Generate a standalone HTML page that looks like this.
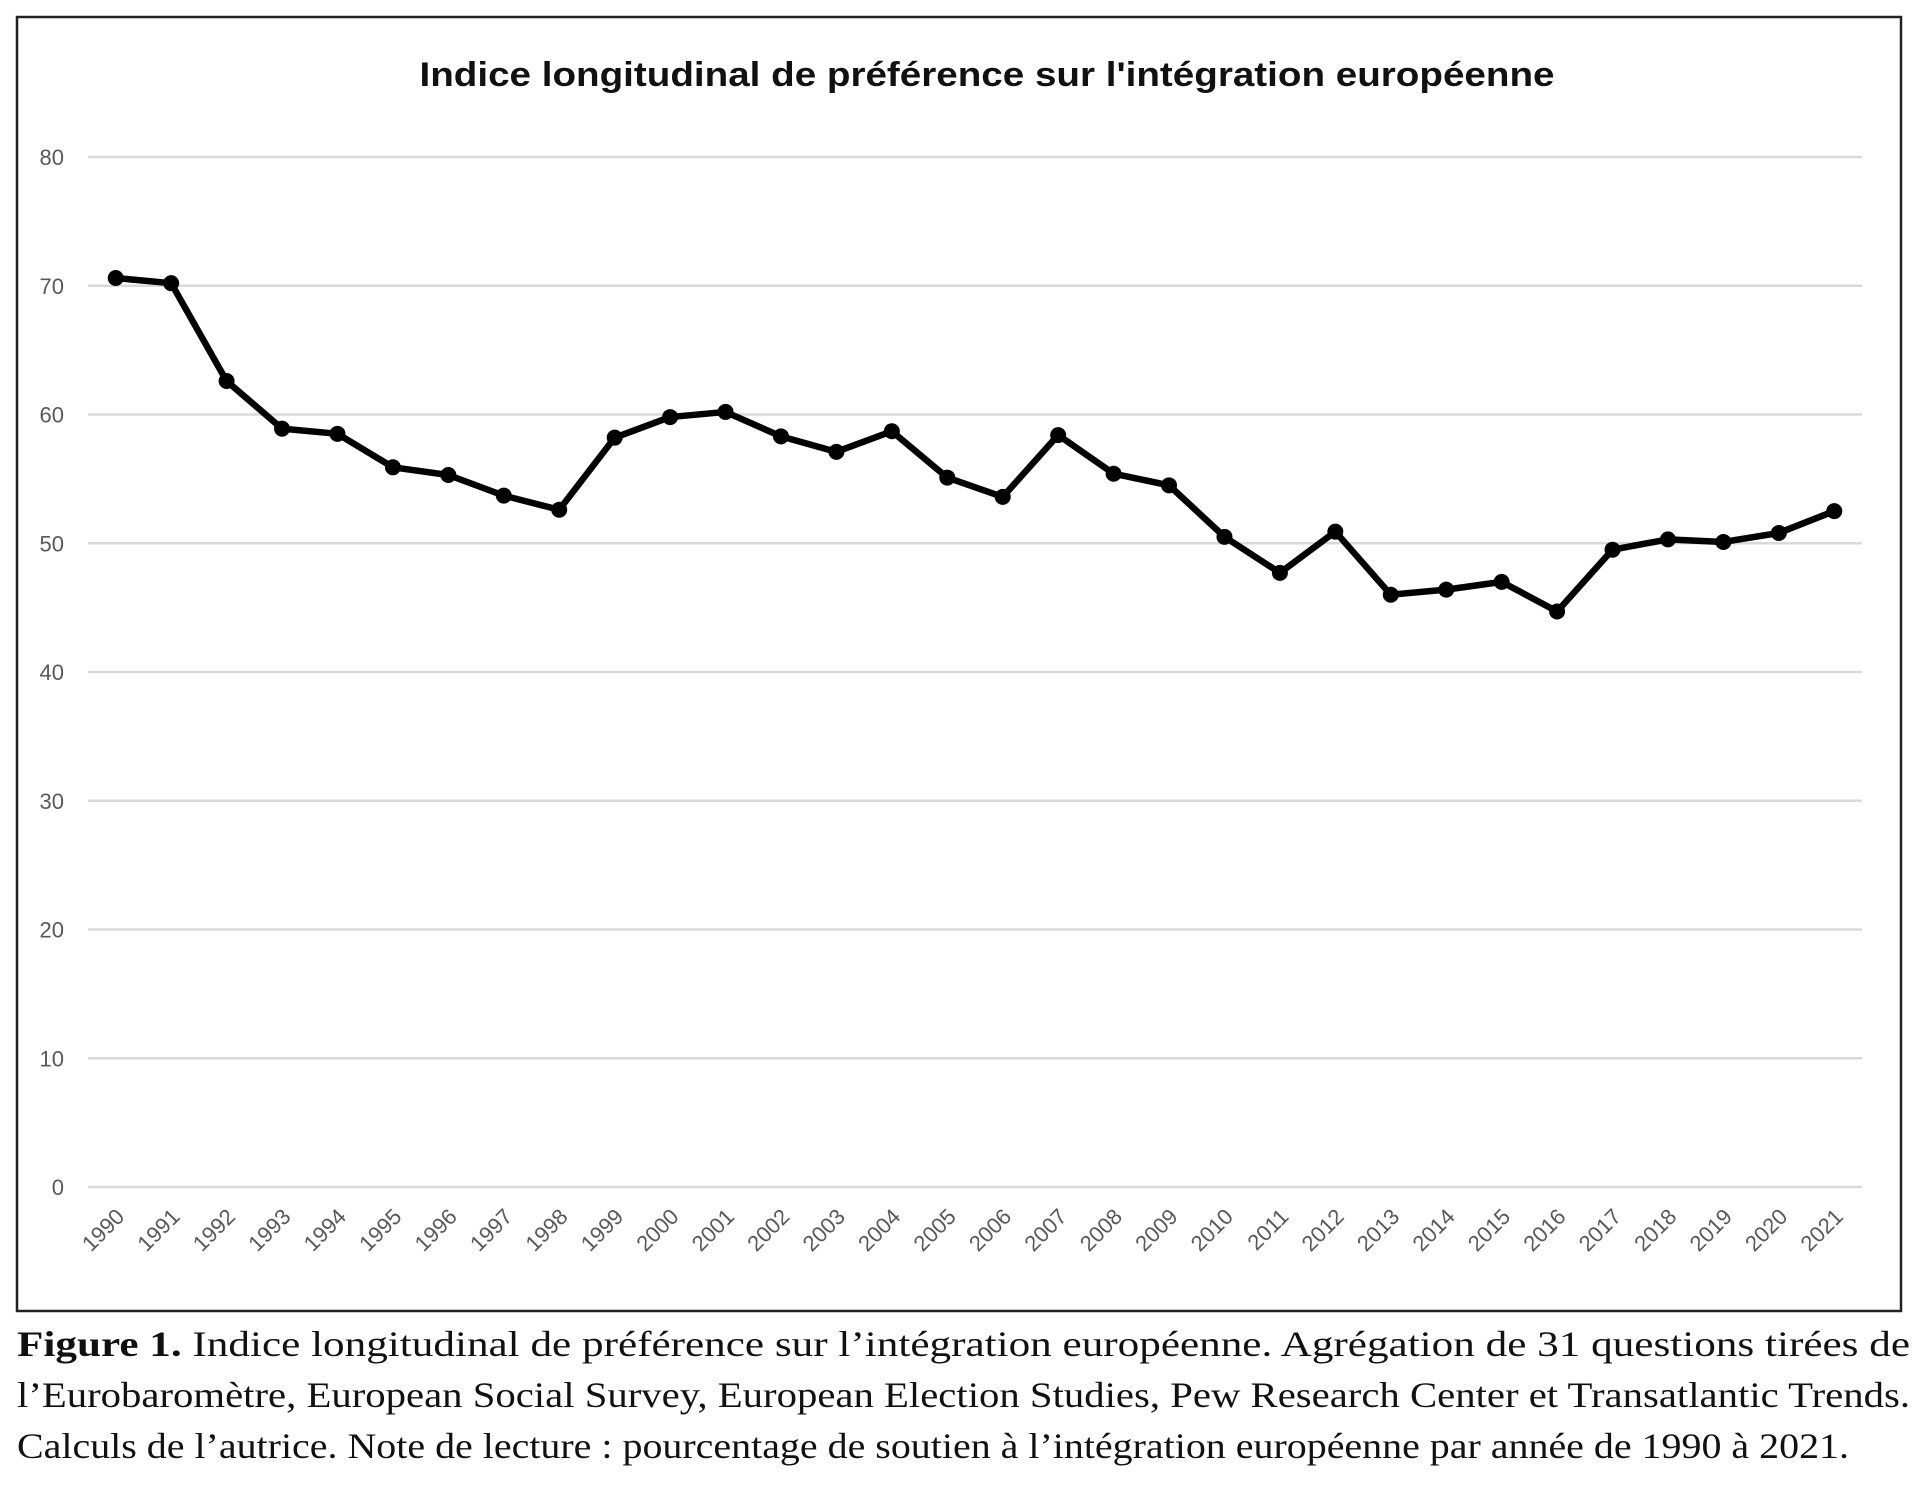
<!DOCTYPE html>
<html><head><meta charset="utf-8"><style>
html,body{margin:0;padding:0;background:#fff;}
svg{display:block;}
</style></head><body>
<svg id="chart" width="1920" height="1488" viewBox="0 0 1920 1488" xmlns="http://www.w3.org/2000/svg">
<rect x="17" y="17" width="1884" height="1294" fill="#fff" stroke="#222" stroke-width="2.5"/>
<text x="987" y="86" text-anchor="middle" font-family="'Liberation Sans',sans-serif" font-weight="bold" font-size="34" fill="#111" textLength="1135" lengthAdjust="spacingAndGlyphs">Indice longitudinal de préférence sur l'intégration européenne</text>
<g id="grid"></g>
<g id="yticks"></g>
<g id="xticks"></g>
<g id="series"></g>
<g font-family="'Liberation Serif',serif" font-size="36" fill="#111">
<text x="17" y="1356" textLength="1893" lengthAdjust="spacingAndGlyphs"><tspan font-weight="bold">Figure 1.</tspan> Indice longitudinal de préférence sur l’intégration européenne. Agrégation de 31 questions tirées de</text>
<text x="17" y="1407" textLength="1893" lengthAdjust="spacingAndGlyphs">l’Eurobaromètre, European Social Survey, European Election Studies, Pew Research Center et Transatlantic Trends.</text>
<text x="17" y="1458" textLength="1832" lengthAdjust="spacingAndGlyphs">Calculs de l’autrice. Note de lecture : pourcentage de soutien à l’intégration européenne par année de 1990 à 2021.</text>
</g>
</svg>
<script>
const years = ["1990","1991","1992","1993","1994","1995","1996","1997","1998","1999","2000","2001","2002","2003","2004","2005","2006","2007","2008","2009","2010","2011","2012","2013","2014","2015","2016","2017","2018","2019","2020","2021"];
const values = [70.6,70.2,62.6,58.9,58.5,55.9,55.3,53.7,52.6,58.2,59.8,60.2,58.3,57.1,58.7,55.1,53.6,58.4,55.4,54.5,50.5,47.7,50.9,46.0,46.4,47.0,44.7,49.5,50.3,50.1,50.8,52.5];
const yTicks = [0,10,20,30,40,50,60,70,80];

const NS="http://www.w3.org/2000/svg";
const L=88,R=1862,Y0=1187,Y80=157;
const yMax=80;
function y(v){return Y0-(v/yMax)*(Y0-Y80);}
function x(i){const w=(R-L)/years.length;return L+w*(i+0.5);}
function mk(t,a,p){const e=document.createElementNS(NS,t);for(const k in a)e.setAttribute(k,a[k]);p.appendChild(e);return e;}

const grid=document.getElementById('grid'),yt=document.getElementById('yticks'),xt=document.getElementById('xticks'),ser=document.getElementById('series');
yTicks.forEach(v=>{
  const l=mk('line',{x1:L,x2:R,y1:y(v),y2:y(v),stroke:'#d9d9d9','stroke-width':2.5},grid);
  
  
  const t=mk('text',{x:64,y:y(v)+8,'text-anchor':'end','font-family':"'Liberation Sans',sans-serif",'font-size':22,fill:'#595959'},yt);
  t.textContent=v;
  
  
});
years.forEach((yr,i)=>{
  const cx=x(i)+10,cy=1218;
  const t=mk('text',{x:cx,y:cy,'text-anchor':'end','font-family':"'Liberation Sans',sans-serif",'font-size':22,fill:'#595959',transform:`rotate(-45 ${cx} ${cy})`},xt);
  t.textContent=yr;
  
  
});
const pts=values.map((v,i)=>x(i)+','+y(v)).join(' ');
const pl=mk('polyline',{points:pts,fill:'none',stroke:'#000','stroke-width':6.5,'stroke-linejoin':'round'},ser);


values.forEach((v,i)=>{
  const c=mk('circle',{cx:x(i),cy:y(v),r:8,fill:'#000'},ser);
  
  
});
</script>
</body></html>
